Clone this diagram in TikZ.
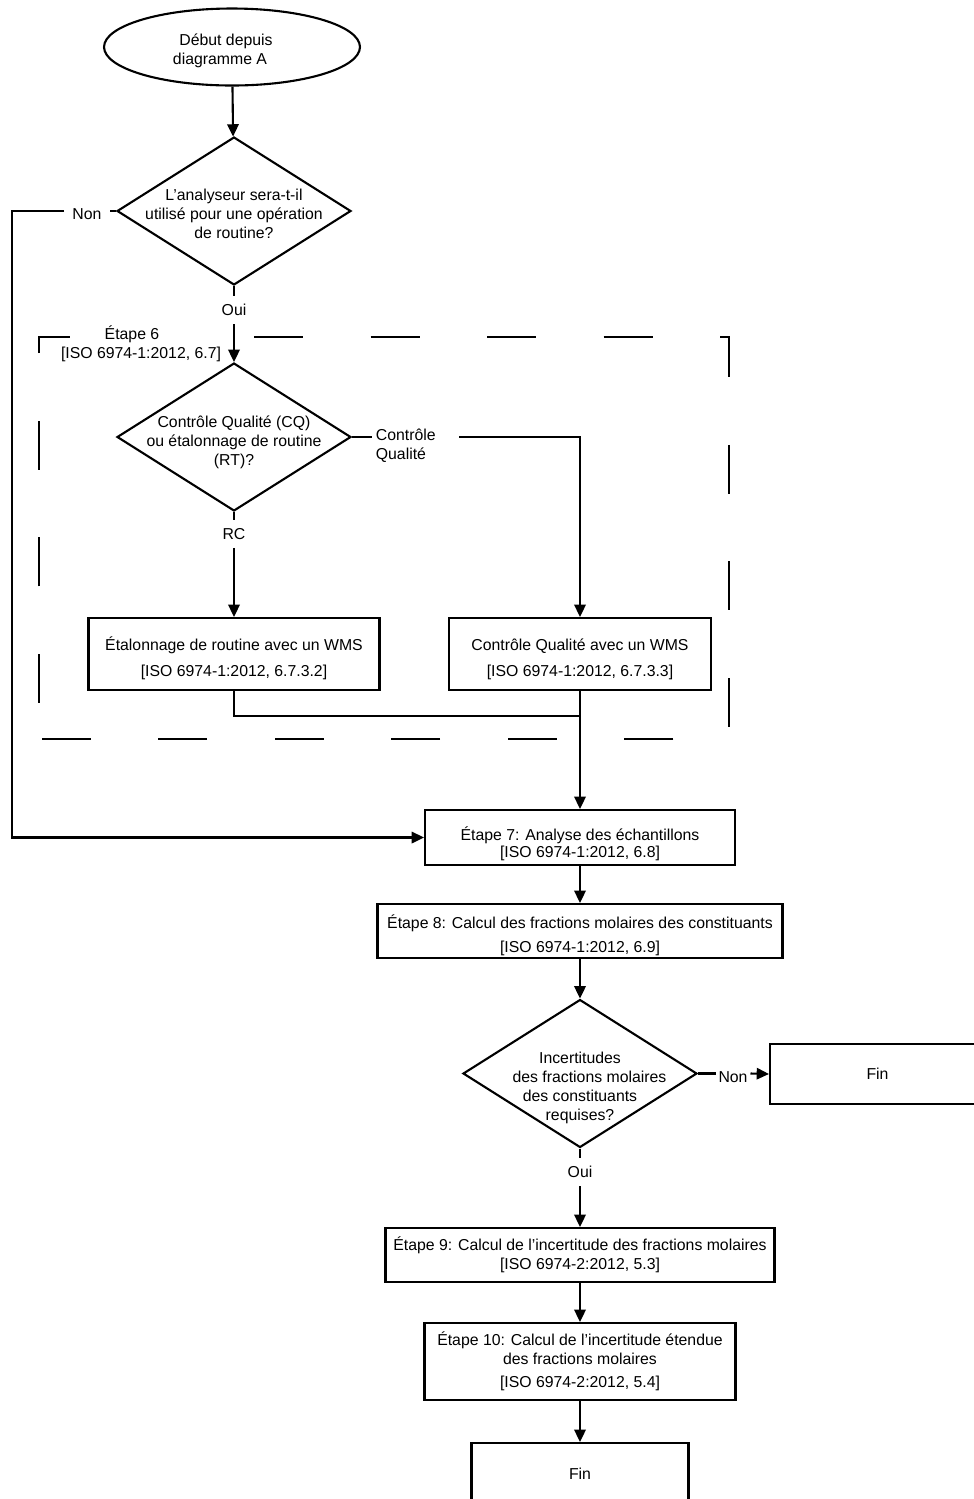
\documentclass[tikz,border=0pt]{standalone}
\usepackage{fontspec}
\setmainfont{Liberation Sans}
\usepackage{tikz}
\usetikzlibrary{shapes.geometric,arrows.meta}
\newcommand{\celltext}[2][5pt]{\smash{\raisebox{-#1}{\makebox[0pt]{\begin{tabular}{@{}c@{}}#2\end{tabular}}}}}

\begin{document}
\begin{tikzpicture}[x=0.02cm, y=-0.02cm,
  font=\fontsize{9pt}{10.8pt}\selectfont,
  boxnode/.style={draw, rectangle, line width=1.2pt, inner sep=0pt, align=center},
  decnode/.style={draw, diamond, line width=1.2pt, inner sep=0pt, minimum width=4.68cm, minimum height=2.96cm},
  lbl/.style={inner sep=4.5pt, align=center},
  flow/.style={line width=1.2pt, -{Triangle[length=7pt, width=6.5pt]}},
  link/.style={line width=1.2pt},
  frame/.style={line width=1.2pt, dash pattern=on 0.98cm off 1.352cm}]%
\useasboundingbox (0,0) rectangle (974,1499);%
% upper part
\node[draw, ellipse, line width=1.2pt, inner sep=0pt, minimum width=5.12cm, minimum height=1.54cm] (start) at (232, 47) {\celltext[4.5pt]{Début depuis\hspace*{0.24cm}\\diagramme A\hspace*{0.48cm}}};%
\node[decnode] (q1) at (234, 211) {\celltext{L’analyseur sera-t-il\\utilisé pour une opération\\de routine?}};%
\node[lbl] (non1) at (87, 214) {Non};%
\node[lbl] (oui1) at (234, 310) {Oui};%
% frame of step 6
\draw[frame, dash phase=1.61cm] (39, 739) -- (39, 337) -- (70, 337);%
\draw[frame] (254, 337) -- (729, 337) -- (729, 739) -- (39, 739);%
\node[inner sep=1pt, align=center] (etape6) at (141, 344) {Étape 6\hspace*{0.36cm}\\{}[ISO 6974-1:2012, 6.7]};%
\node[decnode] (q2) at (234, 437) {\celltext[5.5pt]{Contrôle Qualité (CQ)\\ou étalonnage de routine\\(RT)?}};%
\node[lbl, align=left, anchor=west, inner sep=2pt] (cq) at (372, 446) {Contrôle\\Qualité};%
\node[lbl] (rc) at (234, 534) {RC};%
\node[boxnode, minimum width=5.82cm, minimum height=1.44cm] (calib) at (234, 654) {\celltext[5.5pt]{Étalonnage de routine avec un WMS\\[4pt] {}[ISO 6974-1:2012, 6.7.3.2]}};%
\node[boxnode, minimum width=5.24cm, minimum height=1.44cm] (qc) at (580, 654) {\celltext[5.5pt]{Contrôle Qualité avec un WMS\\[4pt] {}[ISO 6974-1:2012, 6.7.3.3]}};%
\coordinate (join) at (580, 716);%
% lower part
\node[boxnode, minimum width=6.2cm, minimum height=1.1cm] (e7) at (580, 837.5) {\celltext[6.7pt]{Étape 7: Analyse des échantillons\\[-1.2pt] {}[ISO 6974-1:2012, 6.8]}};%
\node[boxnode, minimum width=8.1cm, minimum height=1.08cm] (e8) at (580, 931) {\celltext[5.5pt]{Étape 8: Calcul des fractions molaires des constituants\\[2.8pt] {}[ISO 6974-1:2012, 6.9]}};%
\node[decnode] (q3) at (580, 1073.5) {\celltext[10.5pt]{Incertitudes\\\hspace*{1.2em}des fractions molaires\\des constituants\\requises?}};%
\node[lbl, inner sep=1.5pt] (non3) at (733, 1077) {Non};%
\node[boxnode, minimum width=4.4cm, minimum height=1.2cm] (fin1) at (880, 1074) {\hspace*{-0.1cm}Fin};%
\node[lbl] (oui3) at (580, 1172) {Oui};%
\node[boxnode, minimum width=7.78cm, minimum height=1.08cm] (e9) at (580, 1255) {Étape 9: Calcul de l’incertitude des fractions molaires\\{}[ISO 6974-2:2012, 5.3]};%
\node[boxnode, minimum width=6.22cm, minimum height=1.54cm] (e10) at (580, 1361.5) {Étape 10: Calcul de l’incertitude étendue\\des fractions molaires\\[2.5pt] {}[ISO 6974-2:2012, 5.4]};%
\node[boxnode, minimum width=4.34cm, minimum height=1.24cm] (fin2) at (580, 1474) {Fin};%
\coordinate (nonturn) at (12, 211);%
% connectors
\draw[flow] (start) -- (q1);%
\draw[link] (q1.west) -- (non1.east |- q1.west);%
\draw[flow] (non1.west |- q1.west) -- (nonturn) |- (e7.west);%
\draw[link] (q1.south) -- (oui1.north);%
\draw[flow] (oui1.south) -- (q2.north);%
\draw[link] (q2.east) -- (cq.west |- q2.east);%
\draw[flow] ([xshift=0.4cm]cq.east |- q2.east) -| (qc.north);%
\draw[link] (q2.south) -- (rc.north);%
\draw[flow] (rc.south) -- (calib.north);%
\draw[link] (calib.south) |- (join);%
\draw[flow] (qc.south) -- (e7.north);%
\draw[flow] (e7.south) -- (e8.north);%
\draw[flow] (e8.south) -- (q3.north);%
\draw[link] (q3.east) -- (non3.west |- q3.east);%
\draw[flow] (non3.east |- q3.east) -- (fin1.west);%
\draw[link] (q3.south) -- (oui3.north);%
\draw[flow] (oui3.south) -- (e9.north);%
\draw[flow] (e9.south) -- (e10.north);%
\draw[flow] (e10.south) -- (fin2.north);%
\end{tikzpicture}
\end{document}
